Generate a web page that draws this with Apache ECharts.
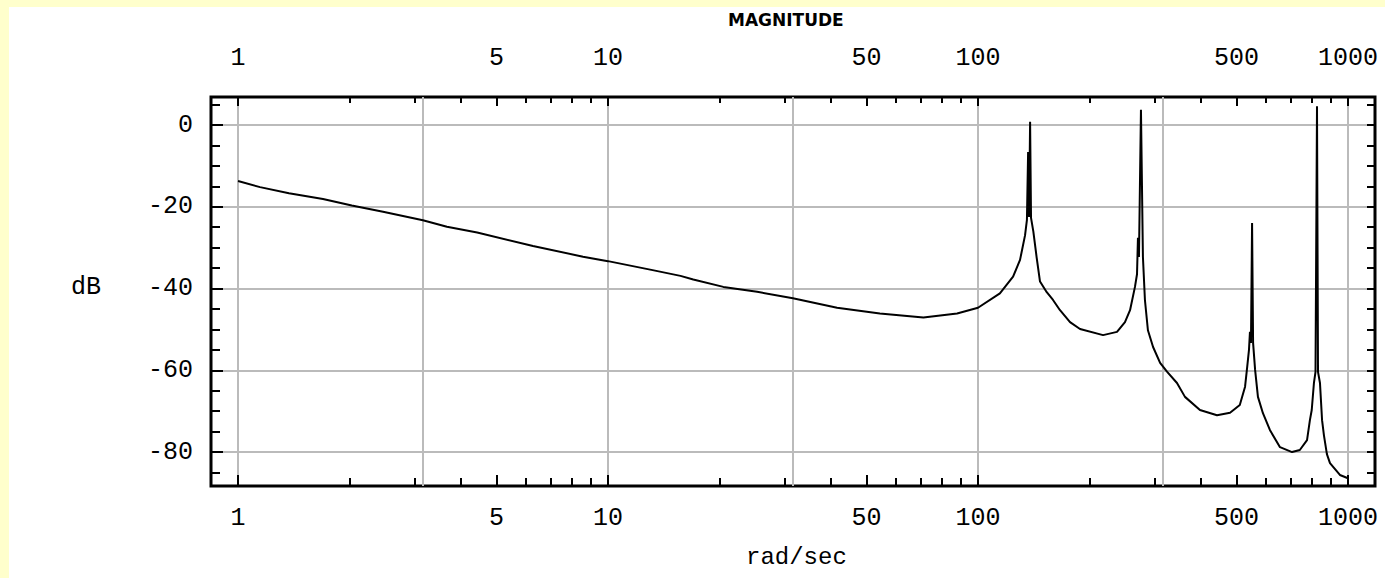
<!DOCTYPE html>
<html lang="en">
<head>
    <meta charset="UTF-8">
    <title>Magnitude</title>
    <style>
        html, body { margin: 0; padding: 0; background: #ffffcc; }
        #chart { position: absolute; left: 9px; top: 7px; width: 1376px; height: 571px; background: #ffffff; }
    </style>
</head>
<body>
    <div id="chart"></div>
    <script src="https://cdn.jsdelivr.net/npm/echarts@6/dist/echarts.min.js"></script>
    <script>
        // frequency (rad/sec) and magnitude (dB)
        const freqs = [1, 1.147, 1.373, 1.697, 2.03, 2.466, 3.16, 3.67, 4.43, 6.27, 8.56, 10,
            13.2, 15.7, 17.0, 20.5, 25.3, 31.6, 41.6, 54.3, 71.2, 87.8, 100, 114.6, 124.4, 129.9,
            134.0, 135.6, 136.6, 137.4, 138.3, 139.1, 141.1, 144.1, 147.1, 153.4, 159.5, 166.6,
            177.3, 188.7, 217.8, 237.5, 249.6, 257.6, 265.6, 269.0, 270.6, 272.3, 275.7, 279.1,
            282.6, 287.9, 297.3, 310.6, 324.6, 345, 362.6, 398, 442.6, 480, 510, 527, 533, 540,
            543.3, 546.7, 550.5, 554, 561, 571, 589, 615, 655, 706, 741, 775, 789, 798, 809, 817,
            824.6, 829.8, 840, 851, 861, 877, 894, 951, 1000];
        const magDb = [-13.7, -15.2, -16.7, -18.1, -19.7, -21.2, -23.3, -24.9, -26.3, -29.6, -32.2, -33.3,
            -35.5, -36.9, -37.8, -39.6, -40.8, -42.4, -44.7, -46.1, -47.1, -46.1, -44.7, -41.2, -37.1, -33.0,
            -27.0, -23.2, -6.6, -22.5, 0.8, -22.7, -26.0, -32.5, -38.3, -40.9, -42.8, -45.3,
            -48.2, -49.9, -51.4, -50.6, -48.2, -45.3, -39.6, -36.5, -27.6, -32.3, 3.7, -32.3,
            -42.8, -50.2, -54.3, -58.2, -60.4, -63.1, -66.5, -69.7, -71.0, -70.4, -68.5, -64.0, -59.9, -55.0,
            -50.6, -53.3, -24.0, -53.3, -59.9, -66.5, -70.5, -74.6, -78.8, -80.0, -79.5, -77.1, -72.2, -69.7, -63.1, -60.4,
            4.6, -60.4, -63.1, -72.2, -75.9, -80.5, -82.7, -85.6, -86.4];

        // axis ticks
        const xMajor = [1, 5, 10, 50, 100, 500, 1000];
        const xMinor = [2, 3, 4, 6, 7, 8, 9, 20, 30, 40, 60, 70, 80, 90, 200, 300, 400, 600, 700, 800, 900];
        const xGrid = [1, 3.1623, 10, 31.623, 100, 316.23, 1000];
        const yMajor = [-80, -60, -40, -20, 0];
        const yMinor = [-85, -75, -70, -65, -55, -50, -45, -35, -30, -25, -15, -10, -5, 5];
        const yAll = [-85, -80, -75, -70, -65, -60, -55, -50, -45, -40, -35, -30, -25, -20, -15, -10, -5, 0, 5];

        const xMin = -0.073, xMax = 3.073;
        const yMin = -88.3, yMax = 6.85;
        const lg = v => Math.log10(v);
        const labelFont = { fontFamily: 'Liberation Mono', fontSize: 25, color: '#000' };

        function xAxisDef(position, ticks, len, withLabel, margin) {
            return {
                type: 'value', position: position, min: xMin, max: xMax,
                axisLine: { show: false, onZero: false },
                axisTick: { show: true, inside: true, length: len, customValues: ticks.map(lg),
                    lineStyle: { color: '#000', width: 2 } },
                axisLabel: withLabel ? Object.assign({ show: true, margin: margin, customValues: ticks.map(lg),
                    formatter: v => String(Math.round(Math.pow(10, v))) }, labelFont) : { show: false },
                splitLine: { show: false }
            };
        }

        function yAxisDef(position, ticks, len, withLabel) {
            return {
                type: 'value', position: position, min: yMin, max: yMax,
                axisLine: { show: false, onZero: false },
                axisTick: { show: true, inside: true, length: len, customValues: ticks,
                    lineStyle: { color: '#000', width: 2 } },
                axisLabel: withLabel ? Object.assign({ show: true, margin: 18, customValues: ticks }, labelFont) : { show: false },
                splitLine: withLabel ? { show: true, lineStyle: { color: '#bbbbbb', width: 2 } } : { show: false }
            };
        }

        const gridAxis = {
            type: 'value', position: 'bottom', min: xMin, max: xMax,
            axisLine: { show: false, onZero: false },
            axisTick: { show: false, customValues: xGrid.map(lg) },
            axisLabel: { show: false },
            splitLine: { show: true, lineStyle: { color: '#bbbbbb', width: 2 } }
        };

        const chart = echarts.init(document.getElementById('chart'), null, { renderer: 'svg' });
        chart.setOption({
            animation: false,
            backgroundColor: '#ffffff',
            grid: { left: 202, right: 10, top: 90, bottom: 92, show: true,
                borderColor: '#000', borderWidth: 3, backgroundColor: 'transparent' },
            xAxis: [
                xAxisDef('bottom', xMajor, 11, true, 20),
                xAxisDef('bottom', xMinor, 8, false),
                xAxisDef('top', xMajor, 9, true, 26),
                xAxisDef('top', xMinor, 6, false),
                gridAxis
            ],
            yAxis: [
                yAxisDef('left', yMajor, 12, true),
                yAxisDef('left', yMinor, 9, false),
                yAxisDef('right', yAll, 8, false)
            ],
            graphic: [
                { type: 'text', left: 784 - 65, top: 4, style: { text: 'MAGNITUDE', fontFamily: 'DejaVu Sans',
                    fontWeight: 'bold', fontSize: 17, fill: '#000', width: 130, align: 'center' } },
                { type: 'text', left: 62, top: 268, style: { text: 'dB', fontFamily: 'Liberation Mono',
                    fontSize: 25, fill: '#000' } },
                { type: 'text', left: 792 - 55, top: 538, style: { text: 'rad/sec', fontFamily: 'Liberation Mono',
                    fontSize: 24, fill: '#000' } }
            ],
            series: [{
                type: 'line',
                xAxisIndex: 0,
                yAxisIndex: 0,
                data: freqs.map((f, i) => [lg(f), magDb[i]]),
                showSymbol: false,
                lineStyle: { color: '#000', width: 2 },
                z: 5
            }]
        });
    </script>
</body>
</html>
